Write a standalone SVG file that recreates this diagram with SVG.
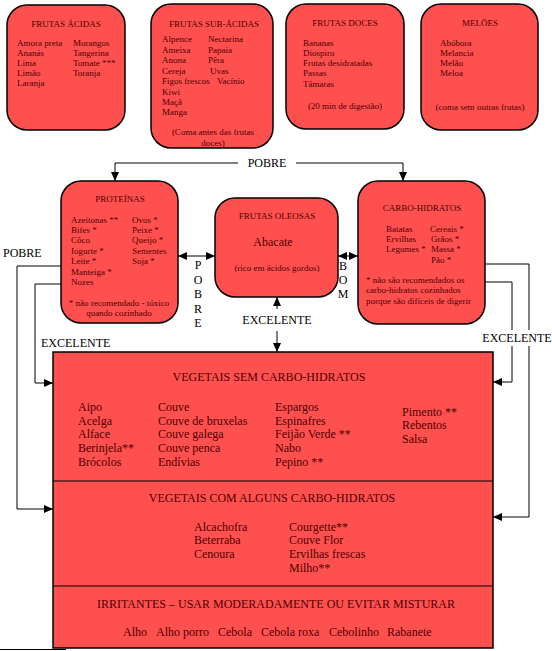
<svg xmlns="http://www.w3.org/2000/svg" width="552" height="651" viewBox="0 0 552 651">
<style>
.box{fill:#ff5050;stroke:#000;stroke-width:1.5}
text{font-family:"Liberation Serif","Times New Roman",serif;fill:#4d0000}
.s{font-size:9px}
.m{font-size:12px}
.c{text-anchor:middle}
.lbl{font-size:12px;fill:#000}
.ln{fill:none;stroke:#000;stroke-width:1}
</style>
<defs>
<marker id="ah" markerUnits="userSpaceOnUse" markerWidth="10" markerHeight="10" refX="9" refY="5" orient="auto-start-reverse">
<path d="M0,1 L9,5 L0,9 z" fill="#000"/>
</marker>
</defs>
<rect width="552" height="651" fill="#fff"/>

<g id="frutas-acidas">
<rect class="box" x="7" y="5" width="118" height="125" rx="20"/>
<text class="s c" x="66" y="27">FRUTAS ÁCIDAS</text>
<text class="s" x="17" y="46">Amora preta</text>
<text class="s" x="17" y="56">Ananás</text>
<text class="s" x="17" y="66">Lima</text>
<text class="s" x="17" y="76">Limão</text>
<text class="s" x="17" y="86">Laranja</text>
<text class="s" x="73" y="46">Morangos</text>
<text class="s" x="73" y="56">Tangerina</text>
<text class="s" x="73" y="66">Tomate ***</text>
<text class="s" x="73" y="76">Toranja</text>
</g>

<g id="frutas-sub-acidas">
<rect class="box" x="151" y="4" width="122" height="144" rx="20"/>
<text class="s c" x="214" y="27">FRUTAS SUB-ÁCIDAS</text>
<text class="s" x="162" y="42">Alpence</text>
<text class="s" x="162" y="53">Ameixa</text>
<text class="s" x="162" y="63">Anona</text>
<text class="s" x="162" y="74">Cereja</text>
<text class="s" x="162" y="84">Figos frescos</text>
<text class="s" x="162" y="95">Kiwi</text>
<text class="s" x="162" y="105">Maçã</text>
<text class="s" x="162" y="115">Manga</text>
<text class="s" x="208" y="42">Nectarina</text>
<text class="s" x="208" y="53">Papaia</text>
<text class="s" x="208" y="63">Pêra</text>
<text class="s" x="210" y="74">Uvas</text>
<text class="s" x="217" y="84">Vacínio</text>
<text class="s c" x="213" y="135">(Coma antes das frutas</text>
<text class="s c" x="213" y="146">doces)</text>
</g>

<g id="frutas-doces">
<rect class="box" x="286" y="4" width="118" height="125" rx="20"/>
<text class="s c" x="345" y="26">FRUTAS DOCES</text>
<text class="s" x="303" y="46">Bananas</text>
<text class="s" x="303" y="56">Diospiro</text>
<text class="s" x="303" y="66">Frutas desidratadas</text>
<text class="s" x="303" y="76">Passas</text>
<text class="s" x="303" y="87">Tâmaras</text>
<text class="s c" x="345" y="109">(20 min de digestão)</text>
</g>

<g id="meloes">
<rect class="box" x="421" y="4" width="117" height="126" rx="20"/>
<text class="s c" x="480" y="26">MELÕES</text>
<text class="s" x="440" y="46">Abóbora</text>
<text class="s" x="440" y="56">Melancia</text>
<text class="s" x="440" y="66">Melão</text>
<text class="s" x="440" y="76">Meloa</text>
<text class="s c" x="480" y="110">(coma sem outras frutas)</text>
</g>

<g id="proteinas">
<rect class="box" x="61" y="181" width="117" height="142" rx="20"/>
<text class="s c" x="120" y="202">PROTEÍNAS</text>
<text class="s" x="71" y="223">Azeitonas **</text>
<text class="s" x="71" y="233">Bifes *</text>
<text class="s" x="71" y="243">Côco</text>
<text class="s" x="71" y="254">Iogurte *</text>
<text class="s" x="71" y="264">Leite *</text>
<text class="s" x="71" y="275">Manteiga *</text>
<text class="s" x="71" y="285">Nozes</text>
<text class="s" x="132" y="223">Ovos *</text>
<text class="s" x="132" y="233">Peixe *</text>
<text class="s" x="132" y="243">Queijo *</text>
<text class="s" x="132" y="254">Sementes</text>
<text class="s" x="132" y="264">Soja *</text>
<text class="s c" x="119" y="306">* não recomendado - tóxico</text>
<text class="s c" x="119" y="316">quando cozinhado</text>
</g>

<g id="frutas-oleosas">
<rect class="box" x="215" y="198" width="123" height="99" rx="20"/>
<text class="s c" x="277" y="219">FRUTAS OLEOSAS</text>
<text class="m c" x="273" y="246">Abacate</text>
<text class="s c" x="277" y="271">(rico em ácidos gordos)</text>
</g>

<g id="carbo-hidratos">
<rect class="box" x="358" y="181" width="127" height="143" rx="20"/>
<text class="s c" x="422" y="211">CARBO-HIDRATOS</text>
<text class="s" x="386" y="232">Batatas</text>
<text class="s" x="386" y="242">Ervilhas</text>
<text class="s" x="386" y="252">Legumes *</text>
<text class="s" x="430" y="232">Cereais *</text>
<text class="s" x="431" y="242">Grãos *</text>
<text class="s" x="431" y="252">Massa *</text>
<text class="s" x="431" y="263">Pão *</text>
<text class="s" x="366" y="283">* não são recomendados os</text>
<text class="s" x="366" y="293">carbo-hidratos cozinhados</text>
<text class="s" x="366" y="304">porque são difíceis de digerir</text>
</g>

<g id="vegetais">
<rect class="box" x="53" y="352" width="440" height="296" stroke-width="1.2"/>
<line x1="53" y1="481" x2="493" y2="481" stroke="#000" stroke-width="1.2"/>
<line x1="53" y1="586" x2="493" y2="586" stroke="#000" stroke-width="1.2"/>
</g>

<g id="vegetais-sem-carbo-hidratos">
<text class="m c" x="269" y="381">VEGETAIS SEM CARBO-HIDRATOS</text>
<text class="m" x="78" y="411">Aipo</text>
<text class="m" x="78" y="425">Acelga</text>
<text class="m" x="78" y="438">Alface</text>
<text class="m" x="78" y="452">Berinjela**</text>
<text class="m" x="78" y="466">Brócolos</text>
<text class="m" x="158" y="411">Couve</text>
<text class="m" x="158" y="425">Couve de bruxelas</text>
<text class="m" x="158" y="438">Couve galega</text>
<text class="m" x="158" y="452">Couve penca</text>
<text class="m" x="158" y="466">Endívias</text>
<text class="m" x="275" y="411">Espargos</text>
<text class="m" x="275" y="425">Espinafres</text>
<text class="m" x="275" y="438">Feijão Verde **</text>
<text class="m" x="275" y="452">Nabo</text>
<text class="m" x="275" y="466">Pepino **</text>
<text class="m" x="402" y="416">Pimento **</text>
<text class="m" x="402" y="429">Rebentos</text>
<text class="m" x="402" y="443">Salsa</text>
</g>

<g id="vegetais-com-alguns-carbo-hidratos">
<text class="m c" x="272" y="502">VEGETAIS COM ALGUNS CARBO-HIDRATOS</text>
<text class="m" x="194" y="531">Alcachofra</text>
<text class="m" x="194" y="544">Beterraba</text>
<text class="m" x="194" y="558">Cenoura</text>
<text class="m" x="289" y="531">Courgette**</text>
<text class="m" x="289" y="544">Couve Flor</text>
<text class="m" x="289" y="558">Ervilhas frescas</text>
<text class="m" x="289" y="572">Milho**</text>
</g>

<g id="irritantes">
<text class="m c" x="276" y="608">IRRITANTES – USAR MODERADAMENTE OU EVITAR MISTURAR</text>
<text class="m" x="123" y="636">Alho</text>
<text class="m" x="156" y="636">Alho porro</text>
<text class="m" x="218" y="636">Cebola</text>
<text class="m" x="261" y="636">Cebola roxa</text>
<text class="m" x="329" y="636">Cebolinho</text>
<text class="m" x="387" y="636">Rabanete</text>
</g>

<g id="connectors">
<path class="ln" d="M238,163 H115 V181" marker-end="url(#ah)"/>
<path class="ln" d="M296,163 H403 V181" marker-end="url(#ah)"/>
<text class="lbl c" x="267" y="167">POBRE</text>

<path class="ln" d="M61,266 H17 V509 H53" marker-end="url(#ah)"/>
<text class="lbl" x="3" y="257">POBRE</text>
<path class="ln" d="M61,284 H35 V383 H53" marker-end="url(#ah)"/>
<text class="lbl" x="41" y="347">EXCELENTE</text>

<path class="ln" d="M178,256 H215" marker-start="url(#ah)" marker-end="url(#ah)"/>
<text class="lbl c" x="198" y="269">P</text>
<text class="lbl c" x="198" y="284">O</text>
<text class="lbl c" x="198" y="298">B</text>
<text class="lbl c" x="198" y="313">R</text>
<text class="lbl c" x="198" y="327">E</text>

<path class="ln" d="M338,256 H358" marker-start="url(#ah)" marker-end="url(#ah)"/>
<text class="lbl c" x="343" y="270">B</text>
<text class="lbl c" x="343" y="284">O</text>
<text class="lbl c" x="343" y="298">M</text>

<path class="ln" d="M277,309 V297" marker-end="url(#ah)"/>
<text class="lbl c" x="277" y="324">EXCELENTE</text>
<path class="ln" d="M277,331 V352" marker-end="url(#ah)"/>

<path class="ln" d="M485,264 H529 V330"/>
<path class="ln" d="M529,346 V517 H493" marker-end="url(#ah)"/>
<path class="ln" d="M485,282 H512 V330"/>
<path class="ln" d="M512,346 V382 H493" marker-end="url(#ah)"/>
<text class="lbl c" x="517" y="342">EXCELENTE</text>
</g>

<line x1="0" y1="649.5" x2="66" y2="649.5" stroke="#000" stroke-width="1"/>
</svg>
